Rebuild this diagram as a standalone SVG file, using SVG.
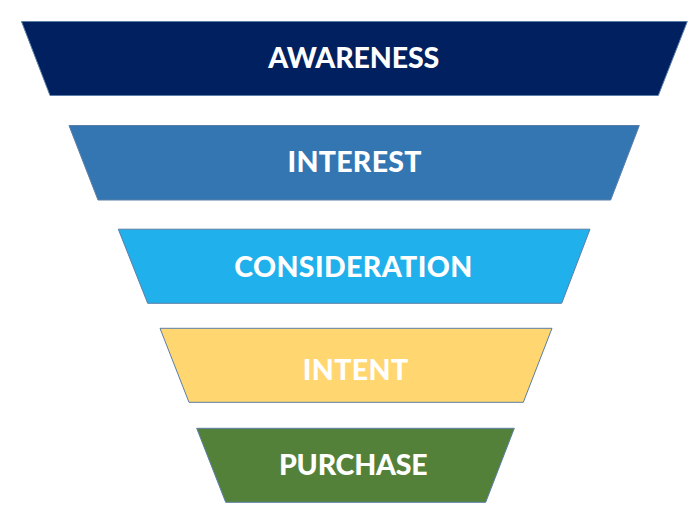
<svg xmlns="http://www.w3.org/2000/svg" width="700" height="526" viewBox="0 0 700 526">
<style>
.band{stroke:#5a7ea8;stroke-width:1}
.lbl{font-family:Lato,"Liberation Sans",sans-serif;font-weight:900;font-size:28.5px;fill:#ffffff;text-anchor:middle}
</style>
<rect width="700" height="526" fill="#ffffff"/>
<g id="awareness">
<polygon class="band" fill="#002060" points="21.5,21.5 687.3,21.5 658.3,95.5 50,95.5"/>
<text class="lbl" x="353.7" y="68.3" textLength="171" lengthAdjust="spacing">AWARENESS</text>
</g>
<g id="interest">
<polygon class="band" fill="#3476b2" points="69,125.5 639.3,125.5 610.7,200 98,200"/>
<text class="lbl" x="354.5" y="172.3" textLength="134" lengthAdjust="spacing">INTEREST</text>
</g>
<g id="consideration">
<polygon class="band" fill="#20b0ec" points="118.3,229.2 590,229.2 561.7,303.3 147.7,303.3"/>
<text class="lbl" x="353.2" y="277.2" textLength="238" lengthAdjust="spacing">CONSIDERATION</text>
</g>
<g id="intent">
<polygon class="band" fill="#ffd670" points="160,328.3 552,328.3 523.3,402.3 189,402.3"/>
<text class="lbl" x="355.5" y="379.7" textLength="105.6" lengthAdjust="spacing">INTENT</text>
</g>
<g id="purchase">
<polygon class="band" fill="#548139" points="196.7,428.3 514.3,428.3 485.7,502.3 225.7,502.3"/>
<text class="lbl" x="353.3" y="474.7" textLength="148.7" lengthAdjust="spacing">PURCHASE</text>
</g>
<g id="connectors"/>
</svg>
